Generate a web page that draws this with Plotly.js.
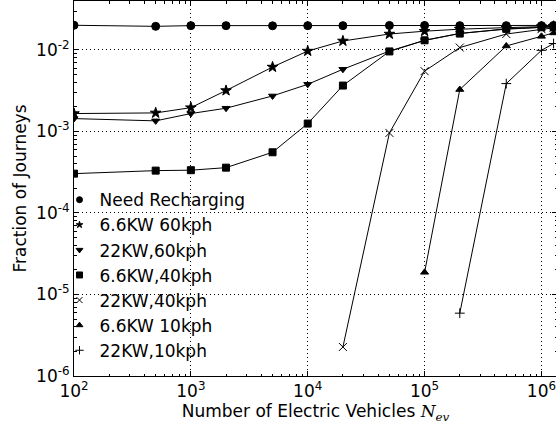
<!DOCTYPE html>
<html>
<head>
<meta charset="utf-8">
<script src="https://cdn.plot.ly/plotly-3.0.1.min.js"></script>
<style>
html,body{margin:0;padding:0;overflow:hidden;background:#fff;}
#chart{width:558px;height:430px;}
</style>
</head>
<body>
<div id="chart"></div>
<script>
// Number of electric vehicles (x)
var nev = [100, 500, 1000, 2000, 5000, 10000, 20000, 50000, 100000, 200000, 500000, 1000000, 1270000];
var needRecharging = [0.0201, 0.0195, 0.0199, 0.0199, 0.0198, 0.0199, 0.0199, 0.0200, 0.0200, 0.0199, 0.0199, 0.0199, 0.0200];
var kw66_60 = [0.00166, 0.00169, 0.00196, 0.00318, 0.00618, 0.0097, 0.0129, 0.0157, 0.0170, 0.0180, 0.0188, 0.0193, 0.0195];
var kw22_60 = [0.00144, 0.00135, 0.00166, 0.00193, 0.00273, 0.00379, 0.0058, 0.0097, 0.0131, 0.0160, 0.0180, 0.0190, 0.0193];
var kw66_40 = [0.000304, 0.000331, 0.000335, 0.000360, 0.000556, 0.00125, 0.00366, 0.0096, 0.01315, 0.0159, 0.0182, 0.0190, 0.0192];

var nev22_40 = [20000, 50000, 100000, 200000, 500000, 1000000, 1270000];
var kw22_40 = [0.00000227, 0.00096, 0.0055, 0.0107, 0.0157, 0.0180, 0.0187];

var nev66_10 = [100000, 200000, 500000, 1000000, 1270000];
var kw66_10 = [0.0000187, 0.00327, 0.0112, 0.0147, 0.0162];

var nev22_10 = [200000, 500000, 1000000, 1270000];
var kw22_10 = [0.0000059, 0.00387, 0.0099, 0.0120];

var names = ["Need Recharging", "6.6KW 60kph", "22KW,60kph", "6.6KW,40kph", "22KW,40kph", "6.6KW 10kph", "22KW,10kph"];

// tick labels
var xTickVals = [1e2, 1e3, 1e4, 1e5, 1e6];
var xTickText = ["10<sup>2</sup>", "10<sup>3</sup>", "10<sup>4</sup>", "10<sup>5</sup>", "10<sup>6</sup>"];
var yTickVals = [1e-6, 1e-5, 1e-4, 1e-3, 1e-2];
var yTickText = ["10<sup>-6</sup>", "10<sup>-5</sup>", "10<sup>-4</sup>", "10<sup>-3</sup>", "10<sup>-2</sup>"];

var symbols = ["circle", "star", "triangle-down", "square", "x-thin-open", "triangle-up", "cross-thin-open"];
var sizes = [8, 8, 7, 7, 8, 7, 7];
var legSizes = [6, 5, 6, 6, 6, 6, 6];
var xs = [nev, nev, nev, nev, nev22_40, nev66_10, nev22_10];
var ys = [needRecharging, kw66_60, kw22_60, kw66_40, kw22_40, kw66_10, kw22_10];

var traces = [];
for (var i = 0; i < names.length; i++) {
  traces.push({
    x: xs[i], y: ys[i], type: "scatter", mode: "lines+markers",
    name: names[i], showlegend: false, legendgroup: "g" + i,
    line: {color: "black", width: 1},
    marker: {symbol: symbols[i], size: sizes[i], color: "black", line: {color: "black", width: 1}},
    cliponaxis: true
  });
}
for (var j = 0; j < names.length; j++) {
  traces.push({
    x: [null], y: [null], type: "scatter", mode: "markers",
    name: names[j], showlegend: true, legendgroup: "g" + j,
    marker: {symbol: symbols[j], size: legSizes[j], color: "black", line: {color: "black", width: 1}}
  });
}

var fnt = "DejaVu Sans, Liberation Sans, sans-serif";
var axisCommon = {
  type: "log", tickmode: "array",
  showgrid: true, gridcolor: "black", griddash: "1px,3px", gridwidth: 1,
  ticks: "inside", ticklen: 5, tickcolor: "black", tickwidth: 1,
  mirror: "allticks", showline: true, linecolor: "black", linewidth: 1,
  zeroline: false, ticklabeloverflow: "allow",
  minor: {ticks: "inside", ticklen: 2.5, tickcolor: "black", tickwidth: 1, dtick: "D1", showgrid: false},
  tickfont: {family: fnt, size: 17, color: "black"}
};

var layout = {
  width: 558, height: 430,
  margin: {l: 74, r: 1, t: 1, b: 54},
  paper_bgcolor: "white", plot_bgcolor: "white",
  font: {family: fnt, color: "black"},
  showlegend: true,
  legend: {
    x: -0.030, xanchor: "left", y: 0.517, yanchor: "top",
    bgcolor: "rgba(0,0,0,0)", borderwidth: 0,
    font: {family: fnt, size: 17, color: "black"},
    itemwidth: 30, tracegroupgap: 0
  },
  xaxis: Object.assign({}, axisCommon, {
    range: [2, 6.133], tickvals: xTickVals, ticktext: xTickText,
    title: {text: "Number of Electric Vehicles <i style='font-family:DejaVu Serif'>N</i><sub><i style='font-family:DejaVu Serif'>ev</i></sub>",
            font: {family: fnt, size: 17, color: "black"}, standoff: 4}
  }),
  yaxis: Object.assign({}, axisCommon, {
    range: [-6, -1.399], tickvals: yTickVals, ticktext: yTickText,
    title: {text: "Fraction of Journeys", font: {family: fnt, size: 17, color: "black"}, standoff: 5}
  })
};

Plotly.newPlot("chart", traces, layout, {displayModeBar: false, staticPlot: true});
</script>
</body>
</html>
